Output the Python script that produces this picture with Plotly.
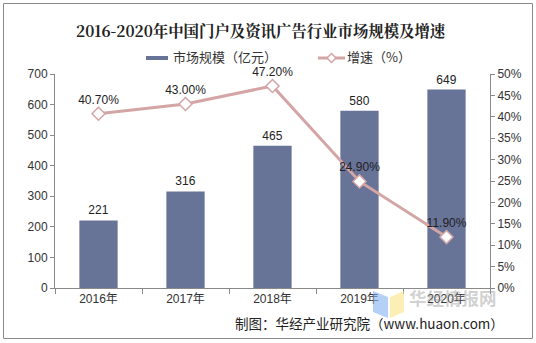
import plotly.graph_objects as go

years = ["2016年", "2017年", "2018年", "2019年", "2020年"]
market = [221, 316, 465, 580, 649]
growth = [40.7, 43.0, 47.2, 24.9, 11.9]
growth_labels = ["40.70%", "43.00%", "47.20%", "24.90%", "11.90%"]
left_ticks = [0, 100, 200, 300, 400, 500, 600, 700]
right_ticks = [0, 5, 10, 15, 20, 25, 30, 35, 40, 45, 50]
right_tick_text = [f"{v}%" for v in right_ticks]

W, H = 536, 343
L, R, T, B = 55, 46, 74, 55
pw, ph = W - L - R, H - T - B

def px(x):
    return (x - L) / pw

def py(y):
    return (H - B - y) / ph

FONT = "Liberation Sans, Arial, Noto Sans CJK SC, sans-serif"
CJK = "Noto Sans CJK SC, sans-serif"
BAR = "#687398"
LINE = "#D4A5A5"

fig = go.Figure()
fig.add_trace(go.Bar(
    x=years, y=market, name="市场规模（亿元）",
    marker=dict(color=BAR, line=dict(width=0)),
    width=0.44,
    text=[str(v) for v in market], textposition="outside",
    textfont=dict(size=12, color="#222", family=FONT),
    cliponaxis=False,
))
fig.add_trace(go.Scatter(
    x=years, y=growth, name="增速（%）", yaxis="y2",
    mode="lines+markers+text",
    line=dict(color=LINE, width=3),
    marker=dict(symbol="diamond", size=10, color="white", line=dict(color=LINE, width=1.5)),
    text=growth_labels, textposition="top center",
    textfont=dict(size=12, color="#222", family=FONT),
    cliponaxis=False,
))

axis_common = dict(showline=True, linecolor="#898989", linewidth=1, ticks="outside",
                   tickcolor="#898989", showgrid=False, zeroline=False,
                   tickfont=dict(size=12, color="#333", family=FONT))

fig.update_layout(
    width=W, height=H,
    margin=dict(l=L, r=R, t=T, b=B),
    paper_bgcolor="white", plot_bgcolor="white",
    font=dict(family=FONT, color="#333"),
    showlegend=False,
    xaxis=dict(**axis_common, type="category", tickson="boundaries", ticklen=5),
    yaxis=dict(**axis_common, range=[0, 700], tickmode="array", tickvals=left_ticks, ticklen=4),
    yaxis2=dict(**axis_common, overlaying="y", side="right", range=[0, 50],
                tickmode="array", tickvals=right_ticks, ticktext=right_tick_text, ticklen=4),
    bargap=0.56,
)

def note(x, y, text, size, color="#222", family=CJK, xanchor="center"):
    fig.add_annotation(x=px(x), y=py(y), xref="paper", yref="paper", text=text,
                       xanchor=xanchor, yanchor="middle", showarrow=False,
                       font=dict(size=size, color=color, family=family))

# title
note(261, 30, "<b>2016-2020年中国门户及资讯广告行业市场规模及增速</b>", 15.4,
     family="Noto Serif CJK SC, Noto Sans CJK SC, serif")

# custom legend
fig.add_shape(type="rect", xref="paper", yref="paper",
              x0=px(146), x1=px(168), y0=py(56), y1=py(60),
              fillcolor=BAR, line=dict(width=0))
note(171, 57, fig.data[0].name, 13, color="#333", xanchor="left")
fig.add_shape(type="line", xref="paper", yref="paper",
              x0=px(318), x1=px(345), y0=py(58), y1=py(58),
              line=dict(color=LINE, width=3))
fig.add_shape(type="path", xref="paper", yref="paper",
              path=f"M {px(331.5)} {py(53.5)} L {px(336)} {py(58)} L {px(331.5)} {py(62.5)} L {px(327)} {py(58)} Z",
              fillcolor="white", line=dict(color=LINE, width=1.5))
note(345, 57, fig.data[1].name, 13, color="#333", xanchor="left")

# watermark logo
fig.add_shape(type="path", xref="paper", yref="paper",
              path=f"M {px(373)} {py(291)} L {px(388)} {py(297)} L {px(388)} {py(318)} L {px(373)} {py(312)} Z",
              fillcolor="rgba(120,170,240,0.55)", line=dict(width=0), layer="above")
fig.add_shape(type="path", xref="paper", yref="paper",
              path=f"M {px(390)} {py(297)} L {px(404)} {py(291)} L {px(404)} {py(312)} L {px(390)} {py(318)} Z",
              fillcolor="rgba(250,225,120,0.55)", line=dict(width=0), layer="above")
note(453, 297, "<b>华经情报网</b>", 17.5, color="rgba(150,150,150,0.45)")

# source footer
note(506, 323, "制图：华经产业研究院（www.huaon.com）", 13.5, xanchor="right")

# outer border
fig.add_shape(type="rect", xref="paper", yref="paper",
              x0=px(3.5), x1=px(532.5), y0=py(3.5), y1=py(338.5),
              line=dict(color="#8a8a8a", width=1), fillcolor="rgba(0,0,0,0)")

fig.write_html("out.html")
